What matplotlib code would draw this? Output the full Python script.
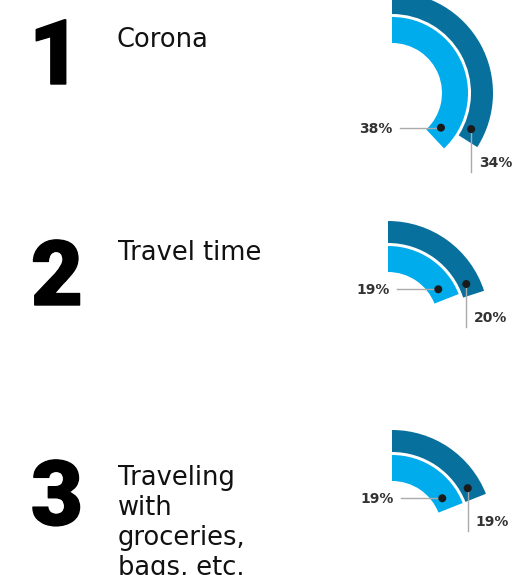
import matplotlib
matplotlib.use('Agg')
import matplotlib.pyplot as plt
import matplotlib.patheffects as pe
from matplotlib.patches import Wedge, Circle
import numpy as np

# data
ranks = ['1', '2', '3']
reasons = ['Corona', 'Travel time', 'Traveling\nwith\ngroceries,\nbags, etc.']
inner_vals = [38, 19, 19]   # light blue ring
outer_vals = [34, 20, 19]   # dark blue ring

# layout (pixels)
W, H = 532, 575
centers = [(392, 93), (388, 322), (392, 531)]
rank_pos = [(55, 84), (57, 305), (57, 525)]      # baseline of big digit
label_pos = [(117, 47), (118, 260), (118, 485)]  # baseline of first line

LIGHT = '#00acec'
DARK = '#07709d'
r_in0, r_in1 = 50, 76
r_out0, r_out1 = 79, 101

fig = plt.figure(figsize=(W / 100, H / 100), dpi=100)
ax = fig.add_axes([0, 0, 1, 1])
ax.set_xlim(0, W)
ax.set_ylim(H, 0)
ax.set_aspect('equal')
ax.axis('off')

for i in range(3):
    cx, cy = centers[i]
    # big rank number + label
    ax.text(rank_pos[i][0], rank_pos[i][1], ranks[i], fontsize=65, fontweight='black',
            family='Roboto', ha='center', va='baseline', color='black',
            path_effects=[pe.withStroke(linewidth=1, foreground='black')])
    for j, line in enumerate(reasons[i].split('\n')):
        ax.text(label_pos[i][0], label_pos[i][1] + 30 * j, line, fontsize=18.5,
                ha='left', va='baseline', color='#111111')

    rings = [(inner_vals[i], r_in0, r_in1, LIGHT, 'inner'),
             (outer_vals[i], r_out0, r_out1, DARK, 'outer')]
    for val, r0, r1, col, kind in rings:
        ang = val / 100 * 360  # clockwise from 12 o'clock
        ax.add_patch(Wedge((cx, cy), r1, -90, -90 + ang, width=r1 - r0,
                           facecolor=col, edgecolor='none'))
        rd = (r0 + r1) / 2 - 3
        a_dot = np.deg2rad(-90 + ang) - 12 / rd
        dx = cx + rd * np.cos(a_dot)
        dy = cy + rd * np.sin(a_dot)
        if kind == 'inner':
            ax.plot([dx - 41, dx], [dy, dy], color='#aaaaaa', lw=1, zorder=3)
            ax.text(dx - 48, dy + 1, f'{val}%', fontsize=10, fontweight='bold',
                    color='#333333', ha='right', va='center')
        else:
            ax.plot([dx, dx], [dy, dy + 43], color='#aaaaaa', lw=1, zorder=3)
            ax.text(dx + 8, dy + 34, f'{val}%', fontsize=10, fontweight='bold',
                    color='#333333', ha='left', va='center')
        ax.add_patch(Circle((dx, dy), 4, facecolor='#1a1a1a', edgecolor='none', zorder=4))

fig.savefig('out.png', dpi=100)
